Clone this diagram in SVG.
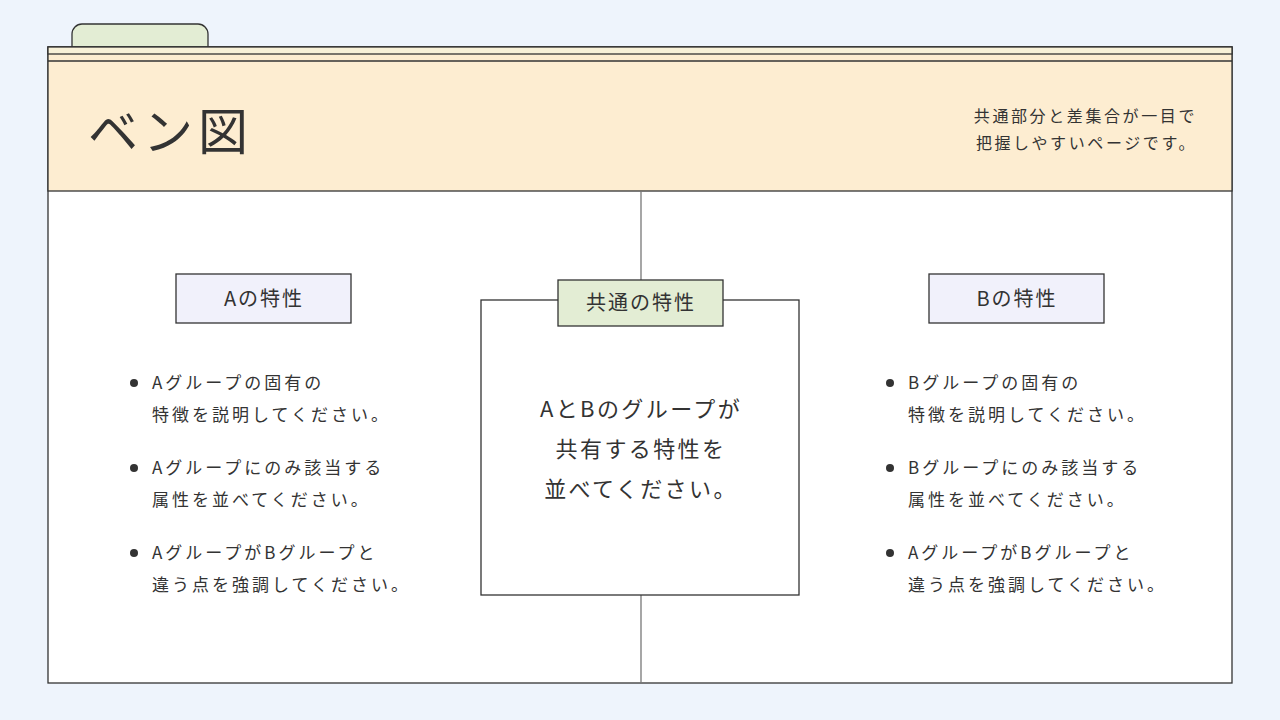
<svg xmlns="http://www.w3.org/2000/svg" width="1280" height="720" viewBox="0 0 1280 720">
<style>
.t{font-family:"Noto Sans CJK JP","Noto Sans",sans-serif;fill:#333}
.b{font-size:17px;letter-spacing:3px}
.h{font-size:20px;letter-spacing:2px}
.c{font-size:22px;letter-spacing:2.4px}
.ln{stroke:#333;stroke-width:1.3;fill:none}
</style>
<rect width="1280" height="720" fill="#eef4fc"/>
<g id="frame">
<path d="M72 54 V34 a10 10 0 0 1 10 -10 H198 a10 10 0 0 1 10 10 V54 Z" fill="#e3edd4" stroke="#333" stroke-width="1.3"/>
<rect x="48" y="47" width="1184" height="636" fill="#fff" stroke="#333" stroke-width="1.3"/>
<rect x="48" y="47" width="1184" height="144" fill="#fdedd1" stroke="#333" stroke-width="1.3"/>
<rect x="48" y="47" width="1184" height="7" fill="#f8f1d8" stroke="#333" stroke-width="1.3"/>
<line x1="48" y1="61" x2="1232" y2="61" stroke="#333" stroke-width="1.3"/>
<text class="t" x="88" y="150" font-size="50" letter-spacing="5">ベン図</text>
<text class="t" x="1197" y="122" font-size="16" letter-spacing="2.6" text-anchor="end" fill="#555">共通部分と差集合が一目で</text>
<text class="t" x="1197" y="149" font-size="16" letter-spacing="2.6" text-anchor="end" fill="#555">把握しやすいページです。</text>
</g>
<g id="connectors">
<line x1="641" y1="191" x2="641" y2="280" stroke="#777" stroke-width="1.3"/>
<line x1="641" y1="595" x2="641" y2="683" stroke="#777" stroke-width="1.3"/>
</g>
<g id="nodeA">
<rect x="176" y="274" width="175" height="49" fill="#f1f1fb" stroke="#333" stroke-width="1.3"/>
<text class="t h" x="264" y="306" text-anchor="middle">Aの特性</text>
<circle cx="134" cy="383" r="4" fill="#333"/>
<text class="t b" x="152" y="389">Aグループの固有の</text>
<text class="t b" x="152" y="421">特徴を説明してください。</text>
<circle cx="134" cy="468" r="4" fill="#333"/>
<text class="t b" x="152" y="474">Aグループにのみ該当する</text>
<text class="t b" x="152" y="506">属性を並べてください。</text>
<circle cx="134" cy="553" r="4" fill="#333"/>
<text class="t b" x="152" y="559">AグループがBグループと</text>
<text class="t b" x="152" y="591">違う点を強調してください。</text>
</g>
<g id="nodeCommon">
<rect x="481" y="300" width="318" height="295" class="ln" fill="#fff"/>
<rect x="558" y="280" width="165" height="46" fill="#e3edd4" stroke="#333" stroke-width="1.3"/>
<text class="t h" x="641" y="310" text-anchor="middle">共通の特性</text>
<text class="t c" x="641" y="417" text-anchor="middle">AとBのグループが</text>
<text class="t c" x="641" y="457" text-anchor="middle">共有する特性を</text>
<text class="t c" x="641" y="497" text-anchor="middle">並べてください。</text>
</g>
<g id="nodeB">
<rect x="929" y="274" width="175" height="49" fill="#f1f1fb" stroke="#333" stroke-width="1.3"/>
<text class="t h" x="1017" y="306" text-anchor="middle">Bの特性</text>
<circle cx="890" cy="383" r="4" fill="#333"/>
<text class="t b" x="908" y="389">Bグループの固有の</text>
<text class="t b" x="908" y="421">特徴を説明してください。</text>
<circle cx="890" cy="468" r="4" fill="#333"/>
<text class="t b" x="908" y="474">Bグループにのみ該当する</text>
<text class="t b" x="908" y="506">属性を並べてください。</text>
<circle cx="890" cy="553" r="4" fill="#333"/>
<text class="t b" x="908" y="559">AグループがBグループと</text>
<text class="t b" x="908" y="591">違う点を強調してください。</text>
</g>
</svg>
